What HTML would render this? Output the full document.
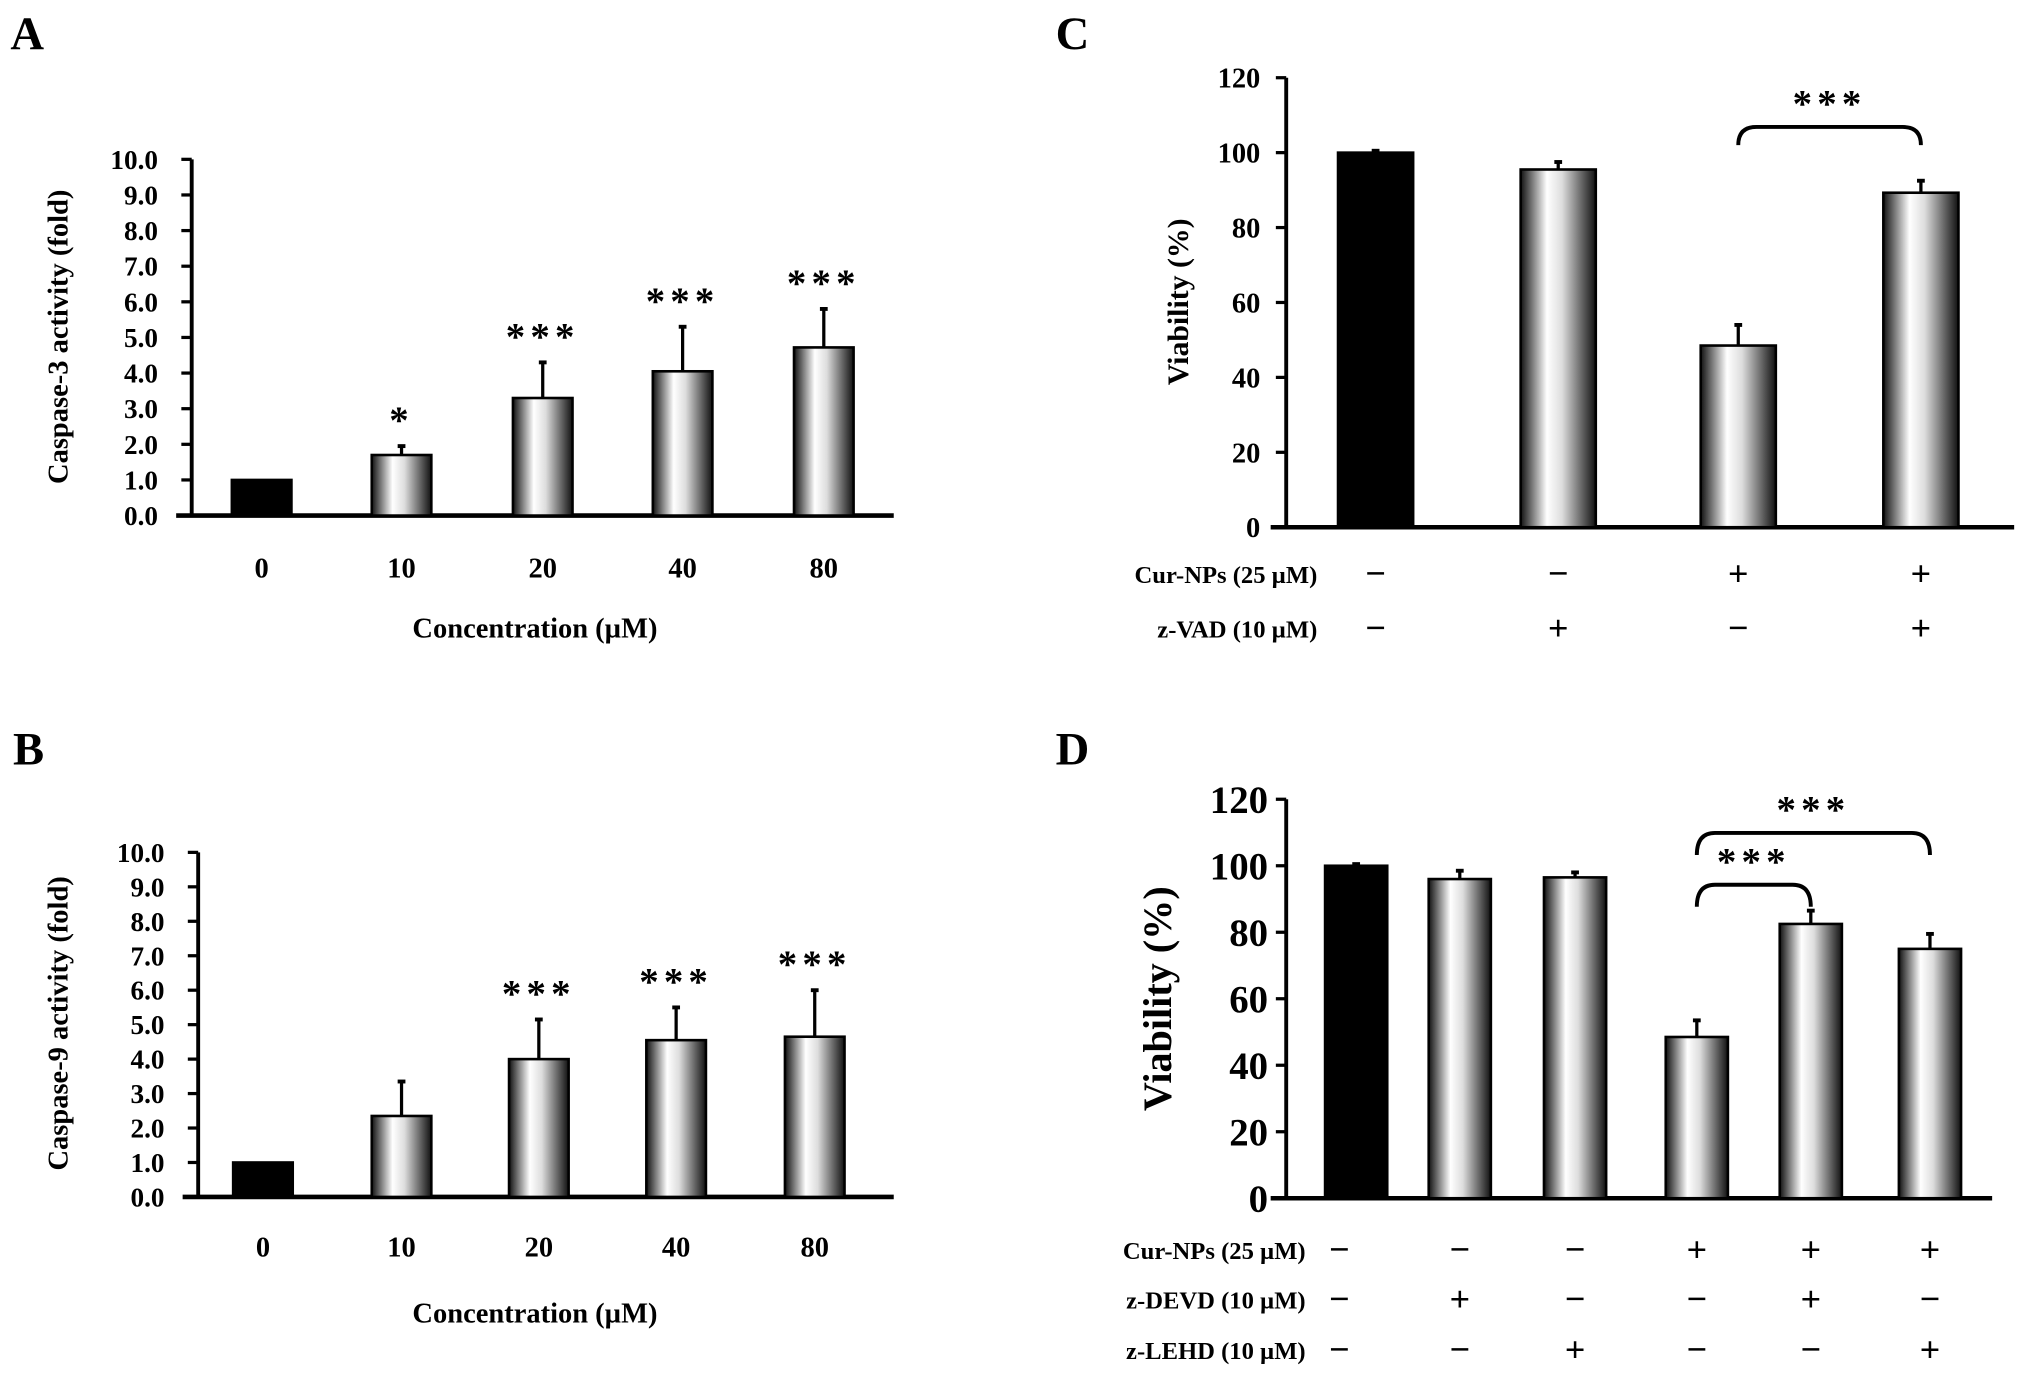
<!DOCTYPE html>
<html><head><meta charset="utf-8"><style>
html,body{margin:0;padding:0;background:#fff}
svg{display:block}
text{font-family:"Liberation Serif",serif;font-weight:bold;fill:#000}
</style></head><body>
<svg id="fig" width="2031" height="1377" viewBox="0 0 1568 1063" preserveAspectRatio="none" xmlns="http://www.w3.org/2000/svg">
<defs>
<linearGradient id="cyl" x1="0" x2="1" y1="0" y2="0">
<stop offset="0" stop-color="#111"/><stop offset="0.35" stop-color="#fff"/><stop offset="0.55" stop-color="#ddd"/><stop offset="1" stop-color="#111"/>
</linearGradient>
</defs>
</svg>
<script>
// Panel A
const catsA = ["0","10","20","40","80"];
const valsA = [1.0,1.7,3.3,4.05,4.72];
const errA = [0,0.25,1.0,1.25,1.08];
const starsA = ["","*","***","***","***"];
// Panel B
const catsB = ["0","10","20","40","80"];
const valsB = [1.0,2.35,4.0,4.55,4.65];
const errB = [0,1.0,1.15,0.95,1.35];
const starsB = ["","","***","***","***"];
const ticksAB = ["0.0","1.0","2.0","3.0","4.0","5.0","6.0","7.0","8.0","9.0","10.0"];
// Panel C
const valsC = [100,95.5,48.5,89.3];
const errC = [0.5,2,5.5,3.2];
const rowsC = [["Cur-NPs (25 µM)",["−","−","+","+"]],["z-VAD (10 µM)",["−","+","−","+"]]];
// Panel D
const valsD = [100,96,96.5,48.5,82.5,75];
const errD = [0.5,2.5,1.5,5,4,4.5];
const rowsD = [["Cur-NPs (25 µM)",["−","−","−","+","+","+"]],["z-DEVD (10 µM)",["−","+","−","−","+","−"]],["z-LEHD (10 µM)",["−","−","+","−","−","+"]]];
const ticksCD = ["0","20","40","60","80","100","120"];

const svg=document.getElementById('fig');
const NS="http://www.w3.org/2000/svg";
function mk(tag,at,txt){const e=document.createElementNS(NS,tag);for(const k in at)e.setAttribute(k,at[k]);if(txt!==undefined)e.textContent=txt;svg.appendChild(e);return e;}

function panel(cfg){
  const y=v=>cfg.y0-(v-cfg.vmin)/(cfg.vmax-cfg.vmin)*(cfg.y0-cfg.ytop);
  const ax=mk('line',{x1:cfg.ax,y1:cfg.ytop,x2:cfg.ax,y2:cfg.y0,stroke:'#000','stroke-width':3});
  
  
  const bx=mk('line',{x1:cfg.ax-12,y1:cfg.y0,x2:cfg.xend,y2:cfg.y0,stroke:'#000','stroke-width':3.5});
  
  
  cfg.ticks.forEach(t=>{
    const v=parseFloat(t),yy=y(v);
    const tk=mk('line',{x1:cfg.ax-8,y1:yy,x2:cfg.ax,y2:yy,stroke:'#000','stroke-width':2.5});
    
    
    const tl=mk('text',{x:cfg.ax-cfg.tgap,y:yy+cfg.tfs*0.35,'text-anchor':'end','font-size':cfg.tfs},t);
    
    
  });
  const yl=mk('text',{x:0,y:0,'text-anchor':'middle','font-size':cfg.yfs,transform:`translate(${cfg.ylx},${cfg.yly}) rotate(-90)`},cfg.ylabel);
  
  
  cfg.vals.forEach((v,i)=>{
    const cx=cfg.cx[i],w=cfg.bw;
    const r=mk('rect',{x:cx-w/2,y:y(v),width:w,height:cfg.y0-y(v),fill:i===0?'#000':'url(#cyl)',stroke:'#000','stroke-width':2});
    
    
    if(cfg.err[i]>0){
      const et=y(v+cfg.err[i]);
      const el=mk('line',{x1:cx,y1:y(v),x2:cx,y2:et,stroke:'#000','stroke-width':2.5});
      
      
      const ec=mk('line',{x1:cx-3,y1:et,x2:cx+3,y2:et,stroke:'#000','stroke-width':3});
      
      
      if(cfg.stars&&cfg.stars[i]){
        const s=mk('text',{x:cx,y:et-10,'text-anchor':'middle','font-size':30,'letter-spacing':4},cfg.stars[i]);
        
        
      }
    }
    if(cfg.cats){
      const c=mk('text',{x:cx,y:cfg.catY,'text-anchor':'middle','font-size':22},cfg.cats[i]);
      
      
    }
  });
  if(cfg.xtitle){
    const xt=mk('text',{x:cfg.xtx,y:cfg.xty,'text-anchor':'middle','font-size':22},cfg.xtitle);
    
    
  }
  if(cfg.rows){
    cfg.rows.forEach((row,ri)=>{
      const ry=cfg.rowY[ri];
      const rl=mk('text',{x:cfg.rowX,y:ry+7,'text-anchor':'end','font-size':19},row[0]);
      
      
      row[1].forEach((sg,i)=>{
        const sx=(i===0&&cfg.firstSignX)?cfg.firstSignX:cfg.cx[i];
        const st=mk('text',{x:sx,y:ry+9,'text-anchor':'middle','font-size':28,'font-weight':'normal'},sg);
        
        
      });
    });
  }
  (cfg.brackets||[]).forEach(b=>{
    const x1=cfg.cx[b[0]],x2=cfg.cx[b[1]],by=b[2],bot=b[3];
    const p=mk('path',{d:`M${x1},${bot} Q${x1},${by} ${x1+14},${by} L${x2-14},${by} Q${x2},${by} ${x2},${bot}`,fill:'none',stroke:'#000','stroke-width':3});
    
    
    const s=mk('text',{x:(x1+x2)/2,y:by-8,'text-anchor':'middle','font-size':30,'letter-spacing':4},'***');
    
    
  });
  const pl=mk('text',{x:cfg.lx,y:cfg.ly,'font-size':36},cfg.letter);
  
  
}

panel({id:'panel-a',letter:'A',lx:8,ly:38,ax:148,xend:690,y0:398,ytop:123,vmin:0,vmax:10,ticks:ticksAB,tgap:26,tfs:21,
  ylabel:'Caspase-3 activity (fold)',ylx:52,yly:260,yfs:22,vals:valsA,err:errA,stars:starsA,cx:[202,310,419,527,636],bw:46,
  cats:catsA,catY:446,xtitle:'Concentration (µM)',xtx:413,xty:492});
panel({id:'panel-b',letter:'B',lx:10,ly:590,ax:153,xend:690,y0:924,ytop:658,vmin:0,vmax:10,ticks:ticksAB,tgap:26,tfs:21,
  ylabel:'Caspase-9 activity (fold)',ylx:52,yly:790,yfs:22,vals:valsB,err:errB,stars:starsB,cx:[203,310,416,522,629],bw:46,
  cats:catsB,catY:970,xtitle:'Concentration (µM)',xtx:413,xty:1021});
panel({id:'panel-c',letter:'C',lx:815,ly:38,ax:993,xend:1555,y0:407,ytop:60,vmin:0,vmax:120,ticks:ticksCD,tgap:20,tfs:22,
  ylabel:'Viability (%)',ylx:917,yly:233,yfs:23,vals:valsC,err:errC,cx:[1062,1203,1342,1483],bw:58,
  rows:rowsC,rowY:[443,485],rowX:1017,brackets:[[2,3,98,112]]});
panel({id:'panel-d',letter:'D',lx:815,ly:590,ax:993,xend:1538,y0:925,ytop:617,vmin:0,vmax:120,ticks:ticksCD,tgap:14,tfs:30,
  ylabel:'Viability (%)',ylx:904,yly:771,yfs:31,vals:valsD,err:errD,cx:[1047,1127,1216,1310,1398,1490],bw:48,
  rows:rowsD,rowY:[965,1003,1042],rowX:1008,firstSignX:1034,brackets:[[3,4,683,700],[3,5,643,660]]});
</script>
</body></html>
